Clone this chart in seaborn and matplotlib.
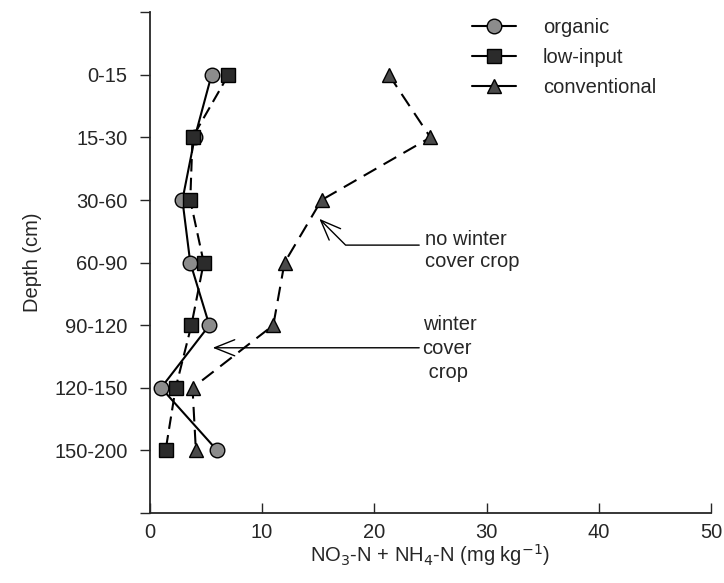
import matplotlib
matplotlib.use("Agg")
import matplotlib.pyplot as plt
from matplotlib.lines import Line2D
import numpy as np
import pandas as pd
import seaborn as sns

# depth layers, top to bottom
depths = ["0-15", "15-30", "30-60", "60-90", "90-120", "120-150", "150-200"]

# NO3-N + NH4-N (mg/kg)
organic = [5.5, 4.0, 2.9, 3.6, 5.3, 1.0, 6.0]
low_input = [7.0, 3.8, 3.6, 4.8, 3.7, 2.3, 1.4]
conventional = [21.3, 25.0, 15.3, 12.0, 11.0, 3.8, 4.1]

xticks = [0, 10, 20, 30, 40, 50]

sns.set_style("ticks")
plt.rcParams["font.family"] = ["Liberation Sans", "DejaVu Sans"]
plt.rcParams["font.size"] = 14.5

pos = np.arange(1, len(depths) + 1)
df = pd.DataFrame({"depth": depths, "pos": pos,
                   "organic": organic, "low-input": low_input,
                   "conventional": conventional})

styles = {
    "organic": dict(marker="o", mfc="#8c8c8c", dashes=None, ms=10.5),
    "low-input": dict(marker="s", mfc="#2b2b2b", dashes=(6, 3), ms=9.5),
    "conventional": dict(marker="^", mfc="#4a4a4a", dashes=(7, 4), ms=9.5),
}

fig, ax = plt.subplots(figsize=(7.24, 5.83), dpi=100)
fig.subplots_adjust(left=0.207, right=0.982, bottom=0.12, top=0.979)

for name, st in styles.items():
    kw = dict(color="black", lw=1.5, marker=st["marker"], markersize=st["ms"],
              markerfacecolor=st["mfc"], markeredgecolor="black",
              markeredgewidth=1.0)
    sns.lineplot(data=df, x=name, y="pos", sort=False, estimator=None,
                 ax=ax, **kw)
    if st["dashes"] is not None:
        ax.lines[-1].set_dashes(st["dashes"])

# annotations
arrow = dict(arrowstyle="->,head_length=1.0,head_width=0.4",
             color="black", lw=1.0, shrinkA=0, shrinkB=0)
ax.text(24.5, 3.8, "no winter\ncover crop", ha="left", va="center",
        linespacing=1.2)
ax.annotate("", xy=(15.1, 3.3), xytext=(24.0, 3.72),
            arrowprops=dict(arrow,
                            connectionstyle="angle,angleA=0,angleB=135,rad=0"))
ax.text(24.3, 5.37, "winter\ncover\n crop", ha="left", va="center",
        linespacing=1.35)
ax.annotate("", xy=(5.6, 5.36), xytext=(24.0, 5.36), arrowprops=arrow)

# axes
ax.set_xlim(0, 50)
ax.set_xticks(xticks)
ax.set_ylim(8, 0)
ax.set_yticks(np.arange(0, 9))
ax.set_yticklabels([""] + depths + [""])
ax.tick_params(axis="x", direction="in", length=7, width=1, pad=7)
ax.tick_params(axis="y", direction="out", length=7, width=1, pad=9)
for s in ["top", "right"]:
    ax.spines[s].set_visible(False)
for s in ["left", "bottom"]:
    ax.spines[s].set_linewidth(1.3)
ax.set_xlabel(r"NO$_3$-N + NH$_4$-N (mg kg$^{-1}$)", labelpad=0)
ax.set_ylabel("Depth (cm)", labelpad=9)

handles = [Line2D([], [], color="black", lw=1.5, marker=st["marker"],
                  markersize=st["ms"], markerfacecolor=st["mfc"],
                  markeredgecolor="black") for st in styles.values()]
ax.legend(handles, list(styles.keys()), loc="upper left",
          bbox_to_anchor=(0.56, 1.005), frameon=False, handlelength=2.2,
          labelspacing=0.55, handletextpad=1.3, borderaxespad=0)

fig.savefig("out.png", dpi=100)
